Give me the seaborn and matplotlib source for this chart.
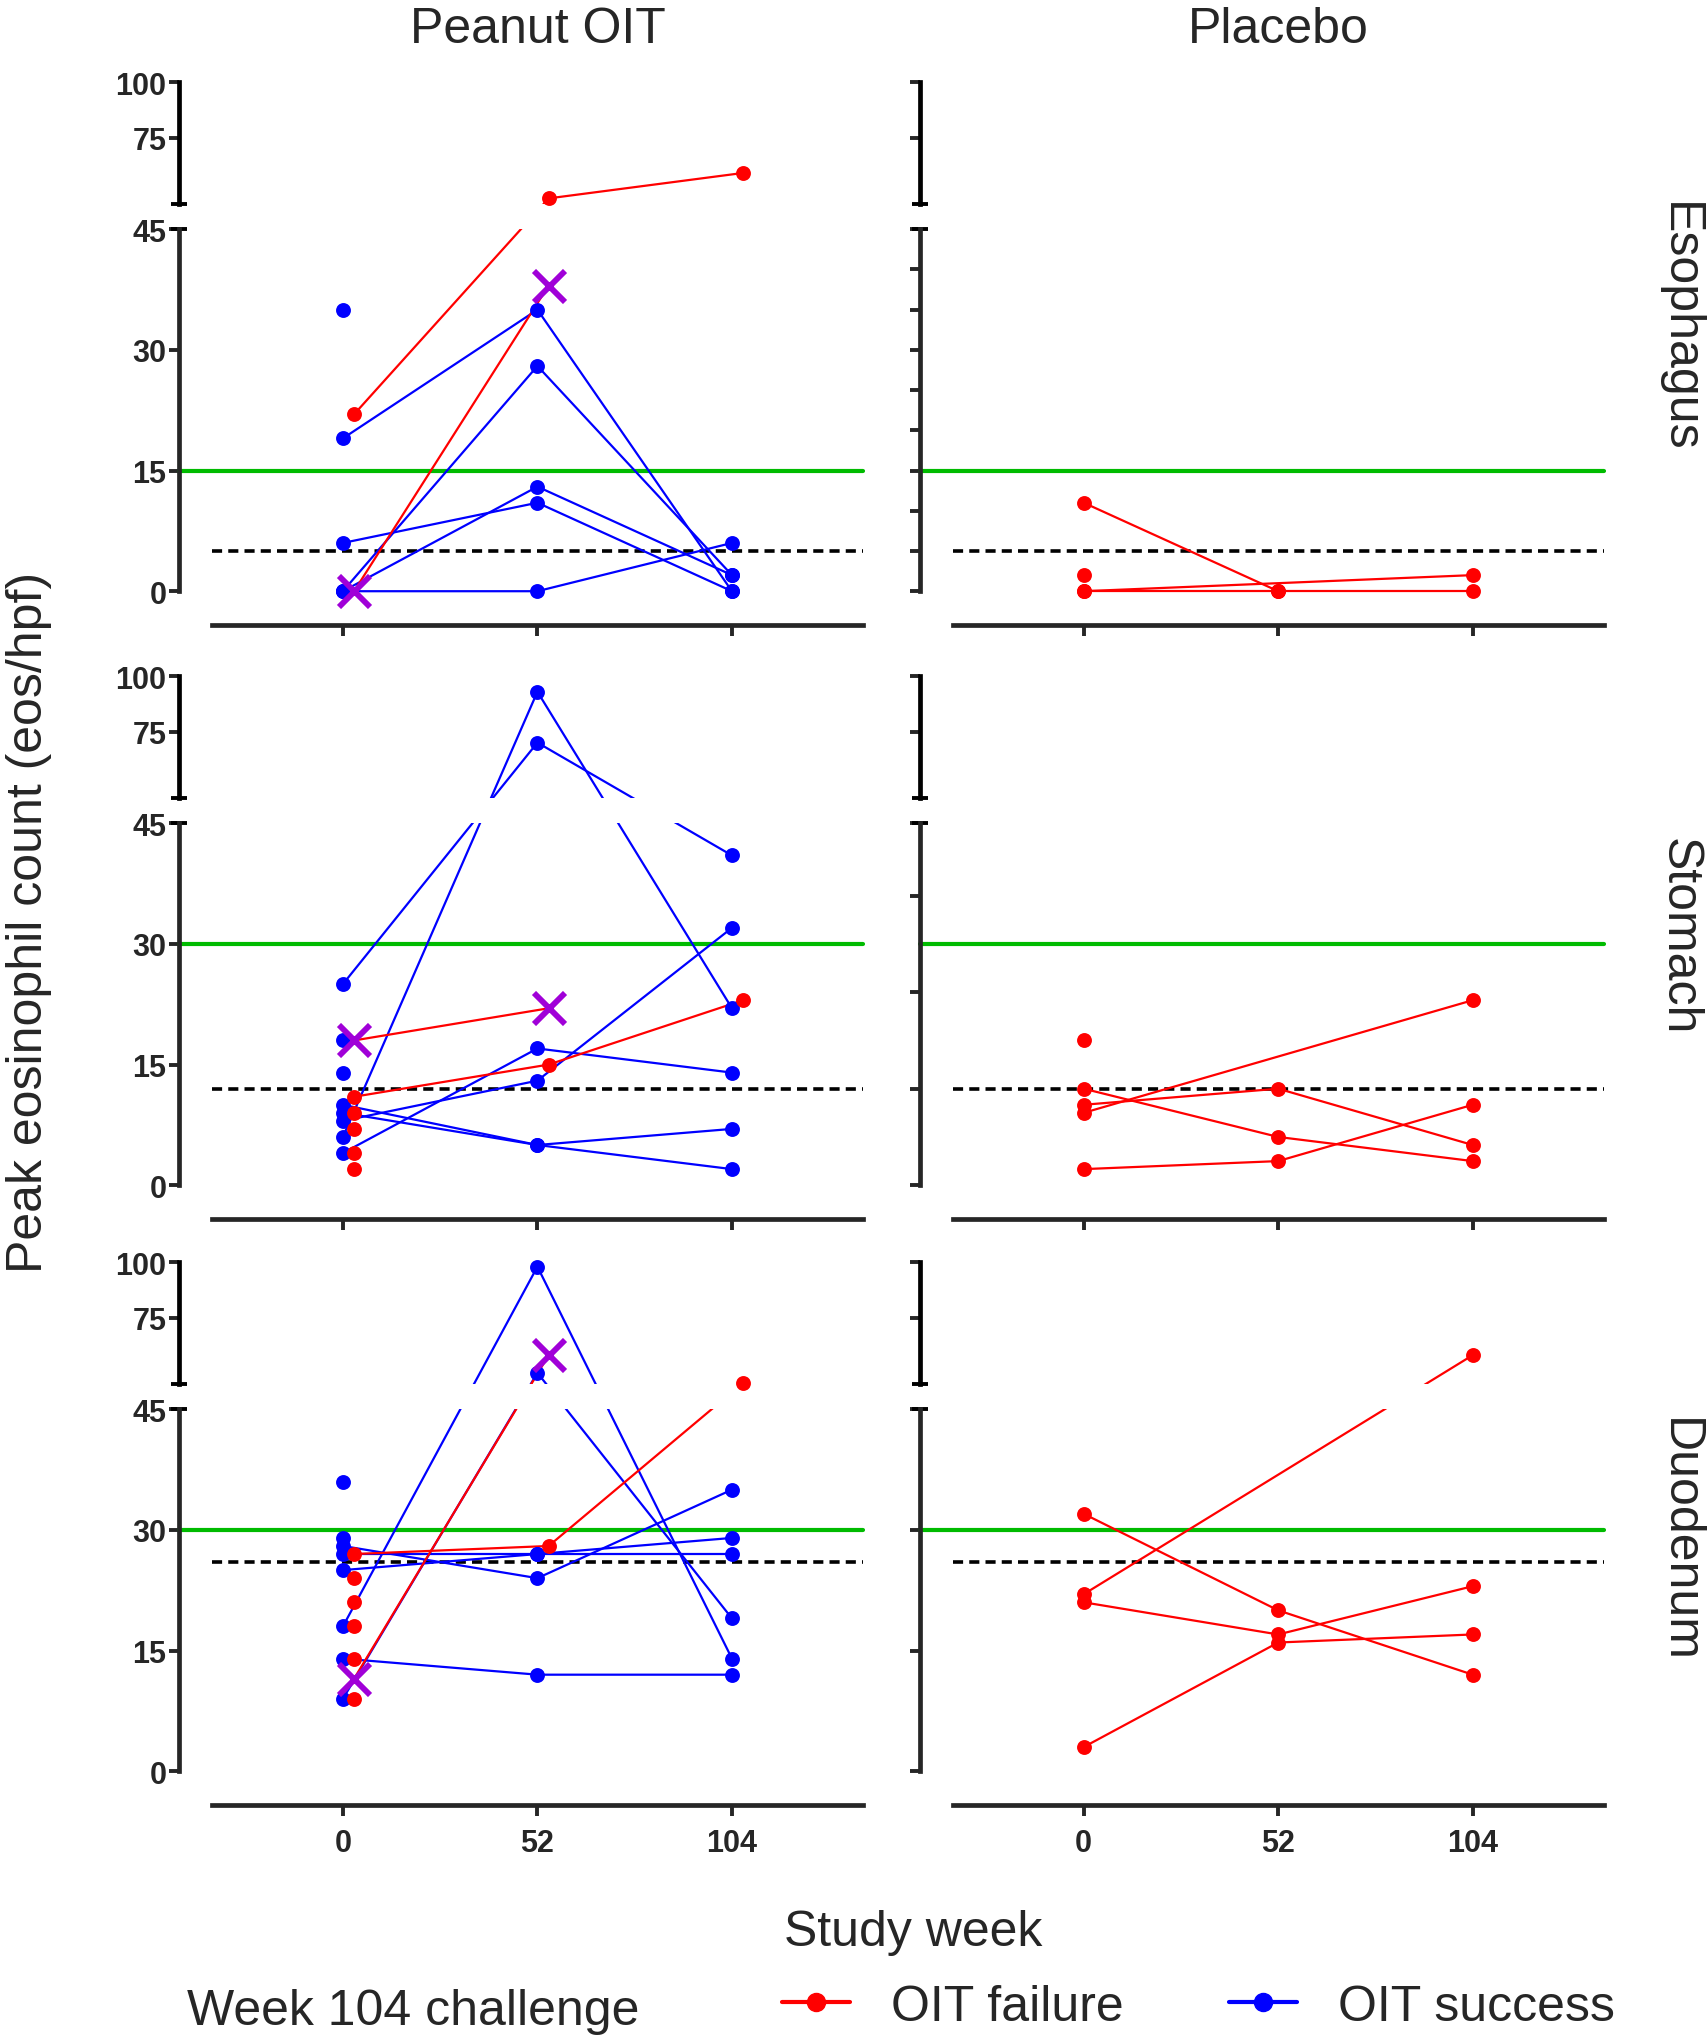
import numpy as np
import pandas as pd
import matplotlib
matplotlib.use("Agg")
import matplotlib.pyplot as plt
from matplotlib.lines import Line2D
import seaborn as sns

# ---- data (peak eos/hpf at study weeks 0, 52, 104; NA = no biopsy) ----
NA = np.nan
WEEKS = [0, 52, 104]

ESO_OIT_SUCCESS = [[35, NA, NA], [19, 35, 0], [6, 11, 0], [0, 28, 2], [0, 13, 2], [0, 0, 6]]
ESO_OIT_FAILURE = [[22, 47.5, 59]]
ESO_OIT_DROPOUT = [[0, 38, NA]]
ESO_PLACEBO = [[11, 0, NA], [0, 0, 0], [0, NA, 2], [2, NA, NA]]

STO_OIT_SUCCESS = [[25, 70, 41], [6, 93, 22], [4, 17, 14], [8, 13, 32], [10, 5, 2],
                   [9, 5, 7], [18, NA, NA], [14, NA, NA]]
STO_OIT_FAILURE = [[11, 15, 23], [9, NA, NA], [7, NA, NA], [4, NA, NA], [2, NA, NA]]
STO_OIT_DROPOUT = [[18, 22, NA]]
STO_PLACEBO = [[12, 6, 3], [10, 12, 5], [9, NA, 23], [2, 3, 10], [18, NA, NA]]

DUO_OIT_SUCCESS = [[18, 98, 14], [9, 50, 19], [28, 24, 35], [27, 27, 27], [25, 27, 29],
                   [14, 12, 12], [36, NA, NA], [29, NA, NA]]
DUO_OIT_FAILURE = [[27, 28, 45.5], [24, NA, NA], [21, NA, NA], [18, NA, NA], [14, NA, NA], [9, NA, NA]]
DUO_OIT_DROPOUT = [[11.5, 58, NA]]
DUO_PLACEBO = [[22, NA, 58], [32, 20, 12], [21, 17, 23], [3, 16, 17]]

ORGANS = ["Esophagus", "Stomach", "Duodenum"]
GREEN_LINE = [15, 30, 30]
DASHED_LINE = [5, 12, 26]
OIT_TICKS = [0, 15, 30, 45]
PLACEBO_TICKS = [list(range(0, 50, 5)), [0, 12, 24, 36, 45], [0, 15, 30, 45]]
TOP_TICKS = [75, 100]

OIT = [(ESO_OIT_SUCCESS, ESO_OIT_FAILURE, ESO_OIT_DROPOUT),
       (STO_OIT_SUCCESS, STO_OIT_FAILURE, STO_OIT_DROPOUT),
       (DUO_OIT_SUCCESS, DUO_OIT_FAILURE, DUO_OIT_DROPOUT)]
PLACEBO = [ESO_PLACEBO, STO_PLACEBO, DUO_PLACEBO]

RED, BLUE, GREEN, PURPLE = "#FF0000", "#0000FF", "#00BB00", "#A000D8"

# broken y axis: 0-45 linear, then a gap, then 45-100 squeezed
GAP, SQUEEZE = 3.15, 0.275


def fwd(y):
    y = np.asarray(y, float)
    return np.where(y <= 45, y, 45 + GAP + (y - 45) * SQUEEZE)


def inv(t):
    t = np.asarray(t, float)
    return np.where(t <= 45, t, np.where(t < 45 + GAP, 45.0, 45 + (t - 45 - GAP) / SQUEEZE))


def long_table(rows, shift, tag):
    recs = []
    for i, row in enumerate(rows):
        for wk, v in zip(WEEKS, row):
            if not np.isnan(v):
                recs.append({"subject": f"{tag}{i}", "week": wk + shift, "eos": v})
    return pd.DataFrame(recs)


def draw_group(ax, df, color, dropout=False):
    sns.lineplot(data=df, x="week", y="eos", units="subject", estimator=None,
                 color=color, lw=1.6, ax=ax, legend=False, zorder=2)
    if dropout:
        sns.scatterplot(data=df, x="week", y="eos", color=PURPLE, marker="x", s=500,
                        linewidth=4.2, ax=ax, legend=False, zorder=5)
    else:
        sns.scatterplot(data=df, x="week", y="eos", color=color, s=115,
                        edgecolor=color, linewidth=0, ax=ax, legend=False, zorder=4)


sns.set_style("ticks")
plt.rcParams["font.family"] = ["Liberation Sans", "DejaVu Sans"]

fig = plt.figure(figsize=(17.08, 20.40), dpi=100)
rows_bottom = [0.69314, 0.40196, 0.11471]
cols_left = [0.1241, 0.5578]
W, H = 0.3811, 0.27093
OFF_PX = 33
w_px = W * 1708
off = OFF_PX / w_px
cap = 8 / w_px

for r, organ in enumerate(ORGANS):
    for c in range(2):
        ax = fig.add_axes([cols_left[c], rows_bottom[r], W, H])
        ax.set_yscale("function", functions=(fwd, inv))

        if c == 0:
            succ, fail, drop = OIT[r]
            draw_group(ax, long_table(succ, 0, "s"), BLUE)
            draw_group(ax, long_table(fail, 3, "f"), RED)
            draw_group(ax, long_table(drop, 3, "d"), RED, dropout=True)
        else:
            draw_group(ax, long_table(PLACEBO[r], 0, "p"), RED)

        # thresholds
        ax.axhline(DASHED_LINE[r], color="black", lw=2.6, ls=(0, (2.8, 1.7)), zorder=1.5)
        ax.axhline(GREEN_LINE[r], xmin=-off, xmax=1, color=GREEN, lw=3.0,
                   clip_on=False, zorder=1.5)
        # white gap of the broken axis
        ax.axhspan(45, 45.00001, color="white", lw=0, zorder=3)

        ax.set_xlim(-35, 139)
        ax.set_ylim(-4.2, 104.5)
        ax.set_xlabel("")
        ax.set_ylabel("")

        for s in ["top", "right"]:
            ax.spines[s].set_visible(False)
        ax.spines["left"].set_position(("outward", OFF_PX * 0.72))
        ax.spines["left"].set_bounds(0, 45)
        ax.spines["left"].set_linewidth(3.4)
        ax.spines["bottom"].set_linewidth(3.4)
        ytr = ax.get_yaxis_transform()
        ax.plot([-off, -off], [45.00001, 100], transform=ytr, color="black", lw=3.4,
                clip_on=False, solid_capstyle="projecting")
        for yv in (45, 45.00001):
            ax.plot([-off - cap, -off + cap], [yv, yv], transform=ytr, color="black",
                    lw=2.8, clip_on=False, solid_capstyle="butt")

        low = OIT_TICKS if c == 0 else PLACEBO_TICKS[r]
        yt = low + TOP_TICKS
        ax.set_yticks(yt)
        if c == 0:
            ax.set_yticklabels([str(v) for v in yt], fontweight="bold")
        else:
            ax.set_yticklabels([])
        ax.set_xticks(WEEKS)
        if r == 2:
            ax.set_xticklabels([str(w) for w in WEEKS], fontweight="bold")
        else:
            ax.set_xticklabels([])
        ax.tick_params(axis="y", length=7.4, width=2.8, labelsize=22, pad=1.5)
        ax.tick_params(axis="x", length=8, width=2.8, labelsize=22, pad=8.5)

        if r == 0:
            ax.set_title(["Peanut OIT", "Placebo"][c], fontsize=36, pad=21.5)

# row labels
for yc, organ in zip([0.8397, 0.5409, 0.2451], ORGANS):
    fig.text(0.983, yc, organ, rotation=270, ha="center", va="center", fontsize=36)

fig.text(0.017, 0.548, "Peak eosinophil count (eos/hpf)", rotation=90,
         ha="center", va="center", fontsize=36)
fig.text(0.5346, 0.0461, "Study week", ha="center", va="baseline", fontsize=36)
fig.text(0.1095, 0.00735, "Week 104 challenge", ha="left", va="baseline", fontsize=36)

handles = [Line2D([], [], color=RED, marker="o", ms=13, lw=3.0),
           Line2D([], [], color=BLUE, marker="o", ms=13, lw=3.0)]
fig.legend(handles, ["OIT failure", "OIT success"], loc="center left",
           bbox_to_anchor=(782 / 1708, 0.0158), ncol=2, frameon=False, fontsize=36,
           handlelength=1.36, handletextpad=0.82, columnspacing=2.1,
           borderpad=0, borderaxespad=0)

fig.savefig("out.png", dpi=100)
